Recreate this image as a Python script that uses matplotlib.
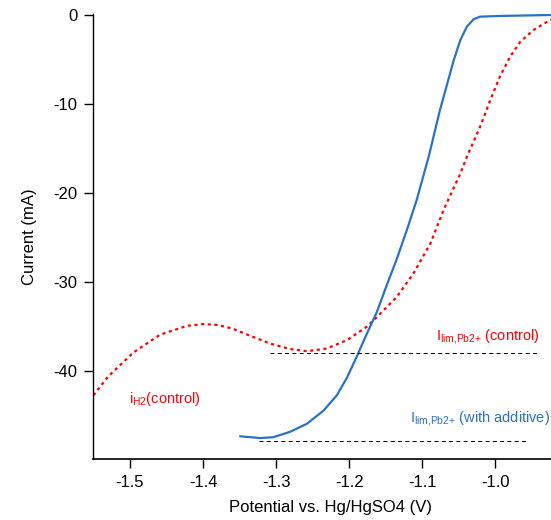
import numpy as np
import matplotlib
matplotlib.use("Agg")
import matplotlib.pyplot as plt

plt.rcParams['font.family'] = ['Liberation Sans', 'DejaVu Sans']
plt.rcParams['axes.unicode_minus'] = False
plt.rcParams['mathtext.default'] = 'regular'
plt.rcParams['mathtext.fontset'] = 'custom'
plt.rcParams['mathtext.rm'] = 'Liberation Sans'
plt.rcParams['mathtext.it'] = 'Liberation Sans'

# Red dotted curve: control
ctrl_v = [-1.550, -1.530, -1.4955, -1.459, -1.422, -1.400, -1.380, -1.360,
          -1.336, -1.308, -1.281, -1.258, -1.231, -1.203, -1.176, -1.162,
          -1.135, -1.112, -1.089, -1.071, -1.048, -1.039, -1.021, -1.007,
          -0.994, -0.980, -0.966, -0.948, -0.924]
ctrl_i = [-42.7, -40.6, -37.9, -35.9, -34.9, -34.7, -34.8, -35.2,
          -36.0, -36.9, -37.5, -37.75, -37.45, -36.5, -35.0, -33.9,
          -31.65, -29.0, -25.65, -21.9, -17.8, -15.9, -12.55, -9.55,
          -6.93, -4.69, -3.0, -1.69, -0.5]

# Blue solid curve: with additive
add_v = [-1.349, -1.322, -1.304, -1.281, -1.258, -1.235, -1.217, -1.203,
         -1.190, -1.176, -1.162, -1.149, -1.135, -1.121, -1.1075, -1.091,
         -1.076, -1.057, -1.048, -1.039, -1.030, -1.021, -0.994, -0.924]
add_i = [-47.3, -47.5, -47.4, -46.8, -45.9, -44.4, -42.7, -40.7,
         -38.4, -35.8, -33.3, -30.4, -27.4, -24.1, -20.7, -15.8,
         -10.7, -5.06, -2.8, -1.3, -0.49, -0.19, -0.11, 0.0]

# limiting current lines
lim_ctrl = -37.9
lim_ctrl_x = [-1.309, -0.941]
lim_add = -47.8
lim_add_x = [-1.323, -0.956]

red = '#ff0000'
blue = '#2a73c4'

fig = plt.figure(figsize=(5.51, 5.2), dpi=100)
ax = fig.add_axes([0.1693, 0.1173, 0.8307, 0.8556])

ax.plot(ctrl_v, ctrl_i, color=red, lw=1.6, linestyle=(0, (1.4, 1.6)))
ax.plot(add_v, add_i, color=blue, lw=1.6, solid_joinstyle='round')
ax.plot(lim_ctrl_x, [lim_ctrl, lim_ctrl], color='black', lw=0.75, linestyle=(0, (3.8, 3.2)))
ax.plot(lim_add_x, [lim_add, lim_add], color='black', lw=0.75, linestyle=(0, (3.8, 3.2)))

ax.text(-1.0807, -36.45, r"I$_{\text{lim,Pb2+}}$ (control)", color=red, fontsize=10.5, va='baseline')
ax.text(-1.117, -45.75, r"I$_{\text{lim,Pb2+}}$ (with additive)", color=blue, fontsize=10.5, va='baseline')
ax.text(-1.501, -43.6, r"i$_{\text{H2}}$(control)", color=red, fontsize=10.5, va='baseline')

ax.set_xlim(-1.5502, -0.924)
ax.set_ylim(-49.85, 0.1)
ax.set_xticks([-1.5, -1.4, -1.3, -1.2, -1.1, -1.0])
ax.set_xticklabels(["-1.5", "-1.4", "-1.3", "-1.2", "-1.1", "-1.0"])
ax.set_yticks([0, -10, -20, -30, -40])
ax.spines['top'].set_visible(False)
ax.spines['right'].set_visible(False)
ax.spines['left'].set_linewidth(1)
ax.spines['bottom'].set_linewidth(1.2)
ax.tick_params(direction='out', length=6.5, width=1, labelsize=12, pad=5)

ax.set_xlabel("Potential vs. Hg/HgSO4 (V)", fontsize=12)
ax.xaxis.set_label_coords(0.519, -0.093)
ax.set_ylabel("Current (mA)", fontsize=12, labelpad=12)

fig.savefig("out.png", dpi=100)
